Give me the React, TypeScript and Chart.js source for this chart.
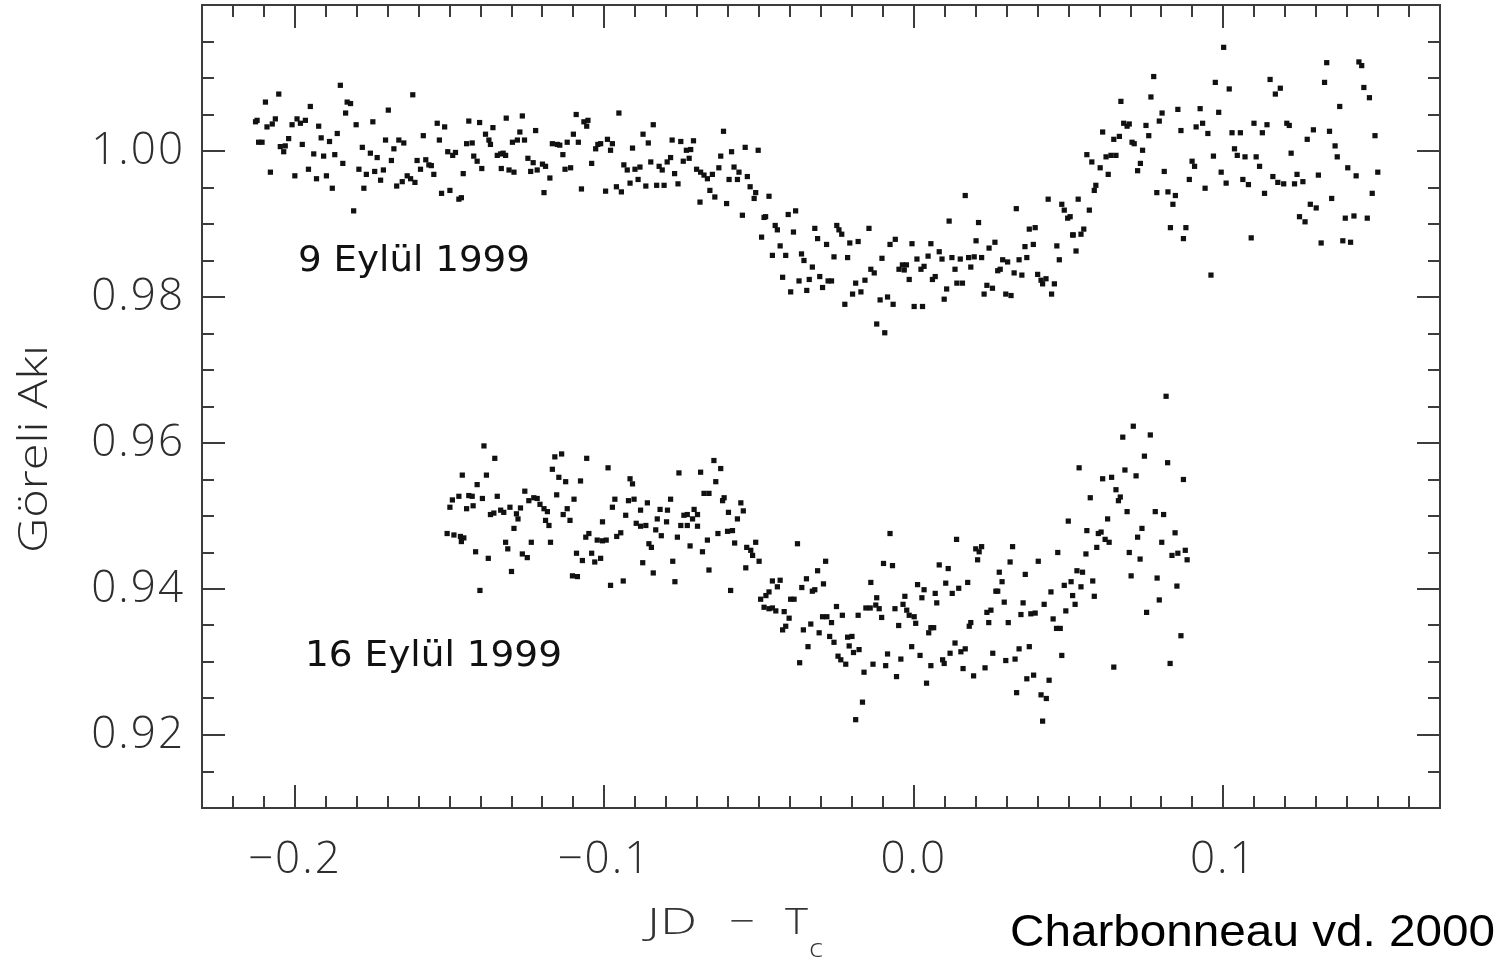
import React, { useEffect, useRef } from 'react';
import { Chart, registerables } from 'chart.js';

Chart.register(...registerables);

// Relative flux of HD 209458, night of 9 September 1999 : [JD - Tc, flux]
const sept9Points: [number, number][] = [
[-0.1853,1.0090],[-0.2052,1.0078],[-0.2095,1.0067],[-0.1619,1.0077],[-0.1831,1.0067],[-0.1820,1.0065],[-0.1950,1.0061],[-0.1836,1.0052],[-0.1698,1.0056],[-0.2127,1.0040],
[-0.2122,1.0042],[-0.2090,1.0033],[-0.2073,1.0037],[-0.2063,1.0044],[-0.2009,1.0036],[-0.1993,1.0044],[-0.1982,1.0038],[-0.1966,1.0042],[-0.1923,1.0034],[-0.1802,1.0036],
[-0.1748,1.0040],[-0.1540,1.0038],[-0.1516,1.0033],[-0.1438,1.0041],[-0.1403,1.0039],[-0.1360,1.0032],[-0.1317,1.0045],[-0.2117,1.0012],[-0.2106,1.0012],[-0.2020,1.0017],
[-0.2047,1.0006],[-0.2031,1.0007],[-0.2036,0.9999],[-0.1976,1.0009],[-0.1915,1.0018],[-0.1888,1.0013],[-0.1863,1.0024],[-0.1707,1.0015],[-0.1680,1.0003],[-0.1664,1.0015],
[-0.1648,1.0011],[-0.1585,1.0021],[-0.1533,1.0015],[-0.1445,1.0010],[-0.1427,1.0011],[-0.1384,1.0023],[-0.1373,1.0015],[-0.1368,1.0009],[-0.1939,0.9996],[-0.1907,0.9993],
[-0.1871,0.9995],[-0.1782,1.0005],[-0.1756,0.9997],[-0.1734,0.9991],[-0.1688,0.9987],[-0.1506,0.9999],[-0.1490,0.9994],[-0.1481,0.9998],[-0.1605,0.9987],[-0.1577,0.9988],
[-0.1567,0.9981],[-0.1559,0.9980],[-0.1422,0.9993],[-0.1411,0.9986],[-0.1396,0.9976],[-0.1346,0.9994],[-0.1335,0.9996],[-0.1319,0.9994],[-0.1845,0.9983],[-0.2079,0.9971],
[-0.2000,0.9966],[-0.1956,0.9975],[-0.1930,0.9962],[-0.1898,0.9966],[-0.1879,0.9949],[-0.1793,0.9975],[-0.1769,0.9968],[-0.1742,0.9972],[-0.1714,0.9974],[-0.1723,0.9960],
[-0.1777,0.9949],[-0.1671,0.9952],[-0.1653,0.9958],[-0.1637,0.9966],[-0.1626,0.9962],[-0.1612,0.9957],[-0.1594,0.9975],[-0.1551,0.9968],[-0.1526,0.9942],[-0.1499,0.9946],
[-0.1470,0.9934],[-0.1462,0.9936],[-0.1456,0.9969],[-0.1333,0.9976],[-0.1308,0.9974],[-0.1810,0.9918],
[-0.1265,1.0048],[-0.1091,1.0050],[-0.0953,1.0052],[-0.1066,1.0040],[-0.1053,1.0042],[-0.1057,1.0034],[-0.0842,1.0036],[-0.0615,1.0027],[-0.1273,1.0026],[-0.1222,1.0028],
[-0.1297,1.0012],[-0.1281,1.0015],[-0.1258,1.0015],[-0.1168,1.0010],[-0.1152,1.0009],[-0.1144,1.0008],[-0.1120,1.0012],[-0.1100,1.0023],[-0.1084,1.0012],[-0.1134,0.9995],
[-0.1028,1.0003],[-0.1021,1.0009],[-0.1012,1.0010],[-0.0990,1.0016],[-0.0974,1.0010],[-0.0980,1.0001],[-0.0875,1.0023],[-0.0858,1.0011],[-0.0909,1.0004],[-0.0781,1.0015],
[-0.0753,1.0013],[-0.0712,1.0014],[-0.0735,1.0001],[-0.0721,1.0002],[-0.0624,0.9993],[-0.0589,0.9999],[-0.0545,1.0005],[-0.0503,1.0001],[-0.1327,0.9997],[-0.1292,0.9971],
[-0.1247,0.9990],[-0.1230,0.9984],[-0.1238,0.9972],[-0.1217,0.9974],[-0.1200,0.9982],[-0.1190,0.9979],[-0.1176,0.9963],[-0.1127,0.9975],[-0.1109,0.9977],[-0.1041,0.9983],
[-0.0937,0.9981],[-0.0926,0.9974],[-0.0901,0.9975],[-0.0885,0.9978],[-0.0850,0.9985],[-0.0823,0.9979],[-0.0813,0.9974],[-0.0797,0.9985],[-0.0786,0.9991],[-0.0773,0.9969],
[-0.0745,0.9986],[-0.0726,0.9990],[-0.0702,0.9975],[-0.0689,0.9971],[-0.0678,0.9967],[-0.0667,0.9962],[-0.0651,0.9968],[-0.0630,0.9977],[-0.0581,0.9978],[-0.0565,0.9971],
[-0.0538,0.9965],[-0.0597,0.9961],[-0.0570,0.9961],[-0.1195,0.9943],[-0.1074,0.9948],[-0.0996,0.9945],[-0.0961,0.9951],[-0.0945,0.9944],[-0.0917,0.9956],[-0.0891,0.9961],
[-0.0866,0.9952],[-0.0831,0.9953],[-0.0807,0.9953],[-0.0762,0.9955],[-0.0659,0.9946],[-0.0643,0.9937],[-0.0691,0.9930],[-0.0605,0.9928],[-0.0529,0.9951],[-0.0511,0.9943],
[-0.0516,0.9935],[-0.0468,0.9938],[-0.0554,0.9912],[-0.0479,0.9910],
[-0.0484,0.9909],[-0.0406,0.9913],[-0.0382,0.9918],[-0.0448,0.9898],[-0.0441,0.9892],[-0.0389,0.9889],[-0.0320,0.9894],[-0.0311,0.9880],[-0.0282,0.9872],[-0.0249,0.9898],
[-0.0242,0.9892],[-0.0233,0.9886],[-0.0207,0.9874],[-0.0180,0.9876],[-0.0145,0.9894],[-0.0492,0.9882],[-0.0432,0.9870],[-0.0457,0.9857],[-0.0414,0.9857],[-0.0363,0.9859],
[-0.0355,0.9850],[-0.0328,0.9841],[-0.0258,0.9855],[-0.0214,0.9854],[-0.0424,0.9827],[-0.0398,0.9807],[-0.0371,0.9822],[-0.0338,0.9824],[-0.0304,0.9828],[-0.0277,0.9822],
[-0.0266,0.9822],[-0.0295,0.9813],[-0.0346,0.9809],[-0.0223,0.9790],[-0.0198,0.9804],[-0.0171,0.9807],[-0.0188,0.9819],[-0.0158,0.9823],[-0.0139,0.9838],[-0.0128,0.9833],
[-0.0109,0.9796],[-0.0085,0.9800],[-0.0067,0.9790],[-0.0120,0.9763],[-0.0094,0.9751],[-0.0103,0.9853],[-0.0077,0.9872],[-0.0060,0.9879],[-0.0048,0.9838],[-0.0037,0.9844],
[-0.0031,0.9837],[-0.0024,0.9844],[-0.0015,0.9824],[-0.0006,0.9873],[0.0010,0.9852],[0.0023,0.9838],[0.0033,0.9842],[0.0055,0.9873],[0.0046,0.9856],[0.0060,0.9824],
[0.0069,0.9828],[0.0001,0.9787],[0.0028,0.9787],[0.0082,0.9862],[0.0091,0.9852],[0.0106,0.9811],[0.0098,0.9797],[0.0114,0.9904],[0.0123,0.9854],[0.0150,0.9852],
[0.0133,0.9838],[0.0139,0.9819],[0.0157,0.9819],[0.0166,0.9939],[0.0184,0.9841],[0.0177,0.9854],[0.0195,0.9855],[0.0219,0.9854],[0.0201,0.9877],[0.0209,0.9902],
[0.0236,0.9816],[0.0254,0.9812],[0.0227,0.9804],[0.0243,0.9867],[0.0262,0.9875],[0.0287,0.9851],[0.0303,0.9848],[0.0271,0.9836],[0.0279,0.9838],[0.0297,0.9804],
[0.0314,0.9802],[0.0324,0.9833],[0.0349,0.9830],[0.0331,0.9921],[0.0340,0.9851],[0.0365,0.9854],[0.0359,0.9869],[0.0386,0.9872],[0.0373,0.9893],[0.0392,0.9895],
[0.0400,0.9831],[0.0411,0.9823],[0.0416,0.9818],[0.0427,0.9825],[0.0454,0.9818],[0.0445,0.9804],[0.0462,0.9870],[0.0470,0.9851],[0.0434,0.9934],[0.0478,0.9927],
[0.0486,0.9919],[0.0497,0.9908],[0.0505,0.9910],[0.0513,0.9885],[0.0524,0.9863],[0.0531,0.9934],
[0.1001,1.0142],[0.1334,1.0121],[0.1438,1.0122],[0.1447,1.0117],[0.0775,1.0102],[0.0974,1.0094],[0.1019,1.0085],[0.1151,1.0098],[0.1184,1.0086],[0.1168,1.0078],
[0.1327,1.0094],[0.1454,1.0087],[0.1472,1.0073],[0.0669,1.0068],[0.0766,1.0074],[0.1376,1.0061],[0.0802,1.0052],[0.0793,1.0041],[0.0853,1.0057],[0.0925,1.0058],
[0.0985,1.0053],[0.0678,1.0038],[0.0689,1.0034],[0.0696,1.0037],[0.0750,1.0035],[0.0759,1.0021],[0.0610,1.0026],[0.0646,1.0016],[0.0664,1.0020],[0.0705,1.0012],
[0.0712,1.0010],[0.0739,1.0001],[0.0863,1.0028],[0.0912,1.0033],[0.0933,1.0038],[0.0950,1.0024],[0.1028,1.0025],[0.1055,1.0025],[0.1099,1.0038],[0.1126,1.0025],
[0.1141,1.0036],[0.1205,1.0038],[0.1213,1.0035],[0.1291,1.0029],[0.1343,1.0027],[0.1271,1.0016],[0.1490,1.0021],[0.1361,1.0007],[0.1368,0.9992],[0.0559,0.9995],
[0.0575,0.9985],[0.0621,0.9992],[0.0637,0.9994],[0.0653,0.9994],[0.0602,0.9977],[0.0628,0.9968],[0.0732,0.9983],[0.0723,0.9973],[0.0809,0.9972],[0.0899,0.9986],
[0.0907,0.9979],[0.0968,0.9993],[0.1036,1.0003],[0.1045,0.9994],[0.1070,0.9992],[0.1106,0.9992],[0.1117,0.9979],[0.1219,0.9997],[0.1402,0.9977],[0.1429,0.9966],
[0.1499,0.9971],[0.0890,0.9961],[0.0993,0.9971],[0.1009,0.9956],[0.1063,0.9961],[0.1081,0.9954],[0.1160,0.9965],[0.1176,0.9957],[0.1195,0.9955],[0.1230,0.9955],
[0.1238,0.9968],[0.1257,0.9958],[0.1307,0.9967],[0.0588,0.9953],[0.0583,0.9946],[0.0941,0.9949],[0.0785,0.9943],[0.0821,0.9944],[0.0845,0.9939],[0.0837,0.9927],
[0.1133,0.9942],[0.1350,0.9935],[0.1481,0.9942],[0.0567,0.9919],[0.1281,0.9927],[0.1300,0.9922],[0.1246,0.9910],[0.1264,0.9903],[0.1394,0.9908],[0.1422,0.9911],
[0.1465,0.9908],[0.0515,0.9885],[0.0540,0.9886],[0.0549,0.9893],[0.0829,0.9895],[0.0879,0.9895],[0.0871,0.9880],[0.1090,0.9881],[0.1316,0.9874],[0.1386,0.9877],
[0.1411,0.9875],[0.0960,0.9830]
];

// Relative flux, night of 16 September 1999 (offset downward in the figure) : [JD - Tc, flux]
const sept16Points: [number, number][] = [
[-0.1389,0.9596],[-0.1354,0.9579],[-0.1459,0.9556],[-0.1381,0.9556],[-0.1411,0.9543],[-0.1491,0.9522],[-0.1499,0.9512],[-0.1470,0.9527],[-0.1438,0.9528],[-0.1427,0.9527],
[-0.1394,0.9524],[-0.1346,0.9527],[-0.1445,0.9510],[-0.1424,0.9514],[-0.1368,0.9502],[-0.1357,0.9504],[-0.1335,0.9508],[-0.1325,0.9505],[-0.1305,0.9512],[-0.1271,0.9511],
[-0.1257,0.9534],[-0.1284,0.9503],[-0.1279,0.9496],[-0.1244,0.9521],[-0.1228,0.9525],[-0.1217,0.9524],[-0.1208,0.9516],[-0.1195,0.9510],[-0.1184,0.9506],[-0.1190,0.9494],
[-0.1179,0.9487],[-0.1154,0.9529],[-0.1168,0.9564],[-0.1160,0.9581],[-0.1138,0.9585],[-0.1147,0.9553],[-0.1125,0.9547],[-0.1077,0.9548],[-0.1098,0.9523],[-0.1120,0.9510],
[-0.1133,0.9502],[-0.1111,0.9494],[-0.1057,0.9579],[-0.0988,0.9566],[-0.0917,0.9551],[-0.0909,0.9544],[-0.0966,0.9523],[-0.0974,0.9512],[-0.0922,0.9521],[-0.0904,0.9523],
[-0.0861,0.9518],[-0.0883,0.9508],[-0.0931,0.9501],[-0.1006,0.9492],[-0.0786,0.9523],[-0.0759,0.9559],[-0.0689,0.9560],[-0.0646,0.9576],[-0.0624,0.9565],[-0.0640,0.9547],
[-0.0678,0.9531],[-0.0662,0.9531],[-0.0613,0.9525],[-0.0618,0.9521],[-0.0559,0.9518],[-0.0551,0.9507],[-0.0599,0.9505],[-0.0570,0.9496],[-0.0820,0.9509],[-0.0796,0.9508],
[-0.0829,0.9496],[-0.0799,0.9492],[-0.0743,0.9501],[-0.0732,0.9502],[-0.0710,0.9509],[-0.0699,0.9502],[-0.0715,0.9496],[-0.0897,0.9490],[-0.0883,0.9486],[-0.0866,0.9487],
[-0.0834,0.9481],[-0.0816,0.9473],[-0.0764,0.9471],[-0.0753,0.9487],[-0.0732,0.9487],[-0.0699,0.9486],[-0.0633,0.9476],[-0.0602,0.9479],[-0.0586,0.9480],[-0.0667,0.9467],
[-0.0723,0.9459],[-0.0683,0.9451],[-0.0579,0.9463],[-0.0540,0.9457],[-0.0527,0.9453],[-0.0521,0.9446],[-0.0511,0.9464],[-0.0500,0.9438],[-0.1508,0.9476],[-0.1486,0.9474],
[-0.1465,0.9472],[-0.1454,0.9470],[-0.1462,0.9465],[-0.1416,0.9451],[-0.1375,0.9442],[-0.1319,0.9464],[-0.1312,0.9455],[-0.1292,0.9483],[-0.1265,0.9448],[-0.1249,0.9443],
[-0.1236,0.9464],[-0.1174,0.9464],[-0.1300,0.9424],[-0.1402,0.9398],[-0.1060,0.9471],[-0.1050,0.9476],[-0.1090,0.9449],[-0.1071,0.9439],[-0.1041,0.9449],[-0.1031,0.9437],
[-0.1012,0.9442],[-0.1023,0.9467],[-0.1006,0.9466],[-0.0994,0.9467],[-0.0960,0.9472],[-0.0947,0.9477],[-0.1103,0.9418],[-0.1087,0.9417],[-0.0980,0.9405],[-0.0939,0.9411],
[-0.0856,0.9462],[-0.0848,0.9457],[-0.0876,0.9436],[-0.0842,0.9422],[-0.0779,0.9438],[-0.0772,0.9410],[-0.0662,0.9426],[-0.0592,0.9398],[-0.0543,0.9429],[-0.0478,0.9391],
[-0.0468,0.9396],
[-0.0376,0.9462],[-0.0285,0.9438],[-0.0311,0.9425],[-0.0347,0.9414],[-0.0362,0.9402],[-0.0328,0.9397],[-0.0320,0.9399],[-0.0292,0.9407],[-0.0457,0.9411],[-0.0432,0.9412],
[-0.0441,0.9403],[-0.0495,0.9386],[-0.0398,0.9386],[-0.0387,0.9386],[-0.0484,0.9375],[-0.0468,0.9373],[-0.0457,0.9374],[-0.0446,0.9370],[-0.0419,0.9369],[-0.0403,0.9360],
[-0.0414,0.9349],[-0.0424,0.9344],[-0.0357,0.9344],[-0.0333,0.9352],[-0.0306,0.9340],[-0.0342,0.9321],[-0.0369,0.9299],[-0.0250,0.9376],[-0.0231,0.9364],[-0.0295,0.9362],
[-0.0281,0.9362],[-0.0266,0.9354],[-0.0272,0.9335],[-0.0258,0.9327],[-0.0245,0.9308],[-0.0236,0.9303],[-0.0220,0.9297],[-0.0214,0.9334],[-0.0200,0.9335],[-0.0209,0.9322],
[-0.0195,0.9313],[-0.0177,0.9317],[-0.0180,0.9364],[-0.0155,0.9374],[-0.0141,0.9374],[-0.0120,0.9388],[-0.0123,0.9378],[-0.0112,0.9373],[-0.0104,0.9361],[-0.0139,0.9409],
[-0.0077,0.9476],[-0.0098,0.9435],[-0.0069,0.9432],[-0.0161,0.9286],[-0.0132,0.9297],[-0.0091,0.9295],[-0.0056,0.9280],[-0.0085,0.9311],[-0.0061,0.9373],[-0.0035,0.9379],
[-0.0029,0.9390],[-0.0023,0.9371],[-0.0015,0.9364],[0.0001,0.9362],[0.0006,0.9353],[-0.0049,0.9350],[-0.0042,0.9304],[-0.0007,0.9321],[0.0020,0.9309],[0.0012,0.9406],
[0.0033,0.9399],[0.0026,0.9388],[0.0069,0.9394],[0.0074,0.9381],[0.0082,0.9433],[0.0111,0.9428],[0.0103,0.9408],[0.0124,0.9394],[0.0145,0.9401],[0.0174,0.9409],
[0.0055,0.9347],[0.0064,0.9347],[0.0048,0.9340],[0.0055,0.9295],[0.0041,0.9271],[0.0093,0.9303],[0.0098,0.9298],[0.0117,0.9312],[0.0133,0.9326],[0.0152,0.9314],
[0.0166,0.9318],[0.0159,0.9291],[0.0138,0.9468],[0.0193,0.9281],[0.0179,0.9349],[0.0184,0.9354],[0.0200,0.9455],[0.0219,0.9458],[0.0211,0.9451],[0.0206,0.9440],
[0.0230,0.9292],[0.0255,0.9312],[0.0236,0.9368],[0.0249,0.9371],[0.0242,0.9354],[0.0265,0.9397],[0.0271,0.9397],[0.0276,0.9423],[0.0285,0.9410],[0.0311,0.9437],
[0.0319,0.9458],[0.0292,0.9382],[0.0305,0.9354],[0.0297,0.9302],[0.0327,0.9304],[0.0340,0.9318],[0.0373,0.9321],[0.0360,0.9420],[0.0353,0.9381],[0.0346,0.9365],
[0.0378,0.9366],[0.0392,0.9367],[0.0402,0.9438],[0.0365,0.9277],[0.0387,0.9282],[0.0332,0.9258],[0.0411,0.9255],[0.0428,0.9250],[0.0416,0.9219],[0.0437,0.9275],
[0.0421,0.9379],[0.0443,0.9396],[0.0450,0.9359],[0.0461,0.9346],[0.0473,0.9346],[0.0478,0.9309],[0.0465,0.9450],[0.0499,0.9493],[0.0491,0.9370],[0.0486,0.9405],
[0.0508,0.9410],[0.0513,0.9391],[0.0521,0.9379],[0.0540,0.9403],[0.0527,0.9425],[0.0545,0.9423],[0.0556,0.9448],[0.0559,0.9480],[-0.0166,0.9245],[-0.0188,0.9221],
[0.0815,0.9664],[0.0709,0.9623],[0.0675,0.9608],[0.0764,0.9611],[0.0745,0.9582],[0.0820,0.9573],[0.0871,0.9550],[0.0534,0.9566],[0.0682,0.9563],[0.0718,0.9555],
[0.0610,0.9551],[0.0639,0.9553],[0.0653,0.9536],[0.0667,0.9526],[0.0661,0.9521],[0.0570,0.9525],[0.0689,0.9506],[0.0780,0.9506],[0.0807,0.9502],[0.0626,0.9496],
[0.0596,0.9476],[0.0605,0.9478],[0.0618,0.9468],[0.0631,0.9464],[0.0737,0.9483],[0.0723,0.9471],[0.0801,0.9464],[0.0844,0.9477],[0.0591,0.9457],[0.0696,0.9450],
[0.0731,0.9441],[0.0834,0.9446],[0.0853,0.9449],[0.0877,0.9453],[0.0883,0.9440],[0.0578,0.9411],[0.0583,0.9390],[0.0702,0.9418],[0.0786,0.9415],[0.0850,0.9404],
[0.0793,0.9385],[0.0752,0.9368],[0.0863,0.9336],[0.0646,0.9293],[0.0828,0.9298]
];

const xTickValues = [-0.2, -0.1, 0.0, 0.1];
const xTickLabels = ['\u22120.2', '\u22120.1', '0.0', '0.1'];
const yTickValues = [0.92, 0.94, 0.96, 0.98, 1.0];
const yTickLabels = ['0.92', '0.94', '0.96', '0.98', '1.00'];
const X_MIN = -0.23;
const X_MAX = 0.17;
const Y_MIN = 0.91;
const Y_MAX = 1.02;
// minor ticks: x every 0.01 (major every 10), y every 0.005 (major every 4)
const X_MINOR_PER_UNIT = 100;
const Y_MINOR_PER_UNIT = 200;

const labelSep9 = '9 Eylül 1999';
const labelSep16 = '16 Eylül 1999';
const credit = 'Charbonneau vd. 2000';
const yTitle = 'Göreli Akı';

const W = 1507;
const H = 964;
const LIGHT_FONT = "'Open Sans', 'Liberation Sans', sans-serif";

// draw text stretched horizontally to a given width
function fitText(ctx: CanvasRenderingContext2D, text: string, x: number, y: number, width: number) {
  const m = ctx.measureText(text).width;
  const s = m > 0 ? width / m : 1;
  ctx.save();
  ctx.translate(x, y);
  ctx.scale(s, 1);
  ctx.fillText(text, 0, 0);
  ctx.restore();
}

const spacingPlugin = {
  id: 'tickSpacing',
  beforeDraw(chart: any) {
    (chart.ctx as any).letterSpacing = '2px';
  },
  beforeDatasetsDraw(chart: any) {
    (chart.ctx as any).letterSpacing = '0px';
  },
};

const frameAndTextPlugin = {
  id: 'frameAndText',
  afterDraw(chart: any) {
    const { ctx, chartArea: a, scales } = chart;
    const xs = scales.x;
    const ys = scales.y;
    ctx.save();
    (ctx as any).letterSpacing = '0px';
    ctx.strokeStyle = '#3c3c3c';
    ctx.lineWidth = 2;
    ctx.strokeRect(a.left, a.top, a.right - a.left, a.bottom - a.top);
    ctx.beginPath();
    const i0 = Math.ceil(X_MIN * X_MINOR_PER_UNIT - 1e-6);
    const i1 = Math.floor(X_MAX * X_MINOR_PER_UNIT + 1e-6);
    for (let i = i0; i <= i1; i++) {
      const px = Math.round(xs.getPixelForValue(i / X_MINOR_PER_UNIT));
      const len = i % 10 === 0 ? 23 : 12;
      ctx.moveTo(px, a.bottom);
      ctx.lineTo(px, a.bottom - len);
      ctx.moveTo(px, a.top);
      ctx.lineTo(px, a.top + len);
    }
    const j0 = Math.ceil(Y_MIN * Y_MINOR_PER_UNIT - 1e-6);
    const j1 = Math.floor(Y_MAX * Y_MINOR_PER_UNIT + 1e-6);
    for (let j = j0; j <= j1; j++) {
      const py = Math.round(ys.getPixelForValue(j / Y_MINOR_PER_UNIT));
      const len = j % 4 === 0 ? 23 : 12;
      ctx.moveTo(a.left, py);
      ctx.lineTo(a.left + len, py);
      ctx.moveTo(a.right, py);
      ctx.lineTo(a.right - len, py);
    }
    ctx.stroke();

    // series annotations
    ctx.fillStyle = '#111';
    ctx.textBaseline = 'middle';
    ctx.textAlign = 'left';
    ctx.font = "36px 'DejaVu Sans', sans-serif";
    fitText(ctx, labelSep9, 298, 262, 232);
    fitText(ctx, labelSep16, 305, 657, 257);

    // credit
    ctx.fillStyle = '#000';
    ctx.textBaseline = 'alphabetic';
    ctx.font = "45px 'Liberation Sans', Arial, sans-serif";
    fitText(ctx, credit, 1010, 946, 485);

    // x axis title JD − T_c
    ctx.fillStyle = '#333';
    ctx.font = `300 37px ${LIGHT_FONT}`;
    fitText(ctx, 'JD', 647, 934, 50);
    fitText(ctx, '\u2212', 729, 934, 26);
    fitText(ctx, 'T', 785, 934, 23);
    ctx.font = `300 26px ${LIGHT_FONT}`;
    fitText(ctx, 'c', 809, 957, 14);

    // y axis title
    ctx.save();
    ctx.translate(47, 553);
    ctx.rotate(-Math.PI / 2);
    ctx.textAlign = 'left';
    ctx.font = `300 40px ${LIGHT_FONT}`;
    ctx.fillStyle = '#2a2a2a';
    fitText(ctx, yTitle, 0, 0, 208);
    ctx.restore();

    ctx.restore();
  },
};

export default function App() {
  const ref = useRef<HTMLCanvasElement | null>(null);
  useEffect(() => {
    if (!ref.current) return;
    const tickFont = { family: LIGHT_FONT, size: 44, weight: '300' as any };
    const chart = new Chart(ref.current, {
      type: 'scatter',
      data: {
        datasets: [
          {
            label: labelSep9,
            data: sept9Points.map(([x, y]) => ({ x, y })),
            pointStyle: 'rect',
            pointRadius: 3.7,
            pointHoverRadius: 3.7,
            backgroundColor: '#111',
            borderWidth: 0,
          },
          {
            label: labelSep16,
            data: sept16Points.map(([x, y]) => ({ x, y })),
            pointStyle: 'rect',
            pointRadius: 3.7,
            pointHoverRadius: 3.7,
            backgroundColor: '#111',
            borderWidth: 0,
          },
        ],
      },
      options: {
        animation: false,
        responsive: false,
        devicePixelRatio: 1,
        events: [],
        layout: { padding: { left: 0, right: W - 1440, top: 5, bottom: 0 } },
        plugins: { legend: { display: false }, tooltip: { enabled: false } },
        scales: {
          x: {
            type: 'linear',
            min: X_MIN,
            max: X_MAX,
            afterBuildTicks: (s: any) => {
              s.ticks = xTickValues.map((v) => ({ value: v }));
            },
            afterFit: (s: any) => {
              s.height = H - 808;
              s.paddingLeft = 0;
              s.paddingRight = 0;
            },
            grid: { display: false, drawTicks: false },
            border: { display: false },
            ticks: {
              padding: 26,
              color: '#2e2e2e',
              font: tickFont,
              maxRotation: 0,
              autoSkip: false,
              callback: (_v: any, i: number) => xTickLabels[i],
            },
          },
          y: {
            type: 'linear',
            min: Y_MIN,
            max: Y_MAX,
            afterBuildTicks: (s: any) => {
              s.ticks = yTickValues.map((v) => ({ value: v }));
            },
            afterFit: (s: any) => {
              s.width = 202;
              s.paddingTop = 0;
              s.paddingBottom = 0;
            },
            grid: { display: false, drawTicks: false },
            border: { display: false },
            ticks: {
              padding: 17,
              color: '#2e2e2e',
              font: tickFont,
              autoSkip: false,
              callback: (_v: any, i: number) => yTickLabels[i],
            },
          },
        },
      },
      plugins: [spacingPlugin, frameAndTextPlugin],
    });
    return () => chart.destroy();
  }, []);
  return (
    <div style={{ position: 'absolute', left: 0, top: 0, width: W, height: H, background: '#fff' }}>
      <canvas ref={ref} width={W} height={H} style={{ display: 'block', width: W, height: H }} />
    </div>
  );
}
